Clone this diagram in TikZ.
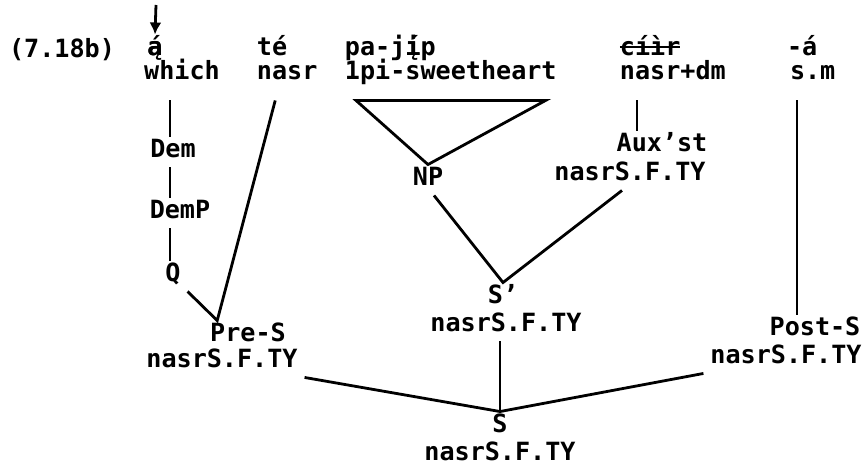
\documentclass[tikz,border=0pt]{standalone}
\usepackage{fontspec}
\setmainfont{DejaVu Sans Mono}
\usetikzlibrary{arrows.meta}
\newcommand{\strk}[1]{\setbox0\hbox{#1}\rlap{\rule[0.28em]{\wd0}{0.09em}}\box0}
\newcommand{\twoacc}[2]{\ooalign{#1\cr#2\cr}}
\tikzset{
  lbl/.style={inner sep=1pt, outer sep=2.5bp, text height=0.7em, text depth=0.15em, font=\fontsize{12.6}{14}\selectfont\bfseries},
  word/.style={lbl, outer ysep=8bp},
  edge/.style={line width=1.4bp}
}
\begin{document}
\begin{tikzpicture}[x=0.5bp, y=-0.5bp]
                \useasboundingbox (0,0) rectangle (868,472);
                \node[lbl] (ex) at (62,52) {(7.18b)};
                \coordinate (top) at (156,5);
                \node[lbl] (aa) at (155,50) {\twoacc{á}{ą}};
                \node[word] (which) at (182,74) {which};
                \node[lbl, anchor=west] (te) at (250,50) {té};
                \node[word, anchor=west] (nasr) at (250,74) {nasr};
                \node[lbl, anchor=west] (pajip) at (338,50) {pa-j\twoacc{í}{į}p};
                \node[word, anchor=west] (sweet) at (338,74) {1pi-sweetheart};
                \node[lbl, anchor=west] (ciir) at (613,50) {\strk{cíìr}};
                \node[word, anchor=west] (dm) at (613,74) {nasr+dm};
                \node[lbl, anchor=west] (ma) at (780,50) {-á};
                \node[word, anchor=west] (sm) at (783,74) {s.m};
                \node[lbl] (dem) at (173,152) {Dem};
                \node[lbl] (demp) at (180,213) {DemP};
                \node[lbl] (q) at (173,276) {Q};
                \node[lbl] (np) at (428,180) {NP};
                \node[lbl] (aux) at (662,146) {Aux'st};
                \node[lbl] (auxf) at (630,175) {nasrS.F.TY};
                \node[lbl] (sp) at (503,298) {S'};
                \node[lbl] (spf) at (506,326) {nasrS.F.TY};
                \node[lbl] (pres) at (248,336) {Pre-S};
                \node[lbl] (presf) at (222,362) {nasrS.F.TY};
                \node[lbl] (posts) at (815,330) {Post-S};
                \node[lbl] (postsf) at (786,358) {nasrS.F.TY};
                \node[lbl] (s) at (500,427) {S};
                \node[lbl] (sf) at (500,455) {nasrS.F.TY};
                \draw[edge, -{Latex[length=6bp,width=6bp]}] (top) -- (aa.north);
                \draw[edge] (which.south -| 170,0) -- (dem.north -| 170,0);
                \draw[edge] (dem.south -| 170,0) -- (demp.north -| 170,0);
                \draw[edge] (demp.south -| 170,0) -- (q.north -| 170,0);
                \draw[edge] (q.south east) -- ([xshift=7bp]pres.north west) -- ([xshift=-6bp]nasr.south);
                \draw[edge] (np.north) -- ([xshift=9bp]sweet.south west) -- ([xshift=-9bp]sweet.south east) -- cycle;
                \draw[edge] (dm.south -| 637,0) -- (aux.north -| 637,0);
                \draw[edge] ([xshift=3bp]np.south) -- (sp.north) -- ([xshift=-4bp]auxf.south);
                \draw[edge] (sm.south -| 797,0) -- (posts.north -| 797,0);
                \draw[edge] (spf.south -| s.north) -- (s.north);
                \draw[edge] (presf.south east) -- (s.north) -- (postsf.south west);
\end{tikzpicture}
\end{document}
